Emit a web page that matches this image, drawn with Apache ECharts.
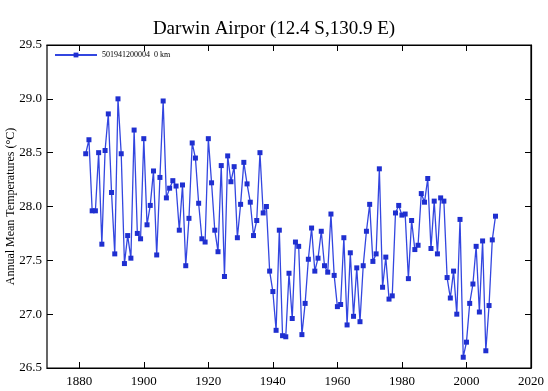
<!DOCTYPE html>
<html>
<head>
<meta charset="utf-8">
<script src="https://cdn.jsdelivr.net/npm/echarts@6/dist/echarts.min.js"></script>
<style>html,body{margin:0;padding:0;background:#fff}#c{width:548px;height:391px}</style>
</head>
<body>
<div id="c"></div>
<script>
var years = [];
for (var y = 1882; y <= 2009; y++) years.push(y);
var temps = [
  28.49, 28.62, 27.96, 27.96, 28.50, 27.65, 28.52, 28.86, 28.13, 27.56,
  29.00, 28.49, 27.47, 27.73, 27.52, 28.71, 27.75, 27.70, 28.63, 27.83,
  28.01, 28.33, 27.55, 28.27, 28.98, 28.08, 28.17, 28.24, 28.19, 27.78,
  28.20, 27.45, 27.89, 28.59, 28.45, 28.03, 27.70, 27.67, 28.63, 28.22,
  27.78, 27.58, 28.38, 27.35, 28.47, 28.23, 28.37, 27.71, 28.02, 28.41,
  28.21, 28.04, 27.73, 27.87, 28.50, 27.94, 28.00, 27.40, 27.21, 26.85,
  27.78, 26.80, 26.79, 27.38, 26.96, 27.67, 27.63, 26.81, 27.10, 27.51,
  27.80, 27.40, 27.52, 27.77, 27.45, 27.39, 27.93, 27.36, 27.07, 27.09,
  27.71, 26.90, 27.57, 26.98, 27.43, 26.93, 27.45, 27.77, 28.02, 27.49,
  27.56, 28.35, 27.25, 27.53, 27.14, 27.17, 27.94, 28.01, 27.92, 27.93,
  27.33, 27.87, 27.60, 27.64, 28.12, 28.04, 28.26, 27.61, 28.05, 27.56,
  28.08, 28.05, 27.34, 27.15, 27.40, 27.00, 27.88, 26.60, 26.74, 27.10,
  27.28, 27.63, 27.02, 27.68, 26.66, 27.08, 27.69, 27.91
];
var xTicks = [1880, 1900, 1920, 1940, 1960, 1980, 2000, 2020];
var seriesName = '501941200004  0 km';
var titleText = 'Darwin Airpor (12.4 S,130.9 E)';
var yName = 'Annual Mean Temperatures (\u00B0C)';

var data = years.map(function (yr, i) { return [yr, temps[i]]; });
var font = 'Liberation Serif, Times New Roman, serif';
function axLine() { return { show: true, onZero: false, lineStyle: { color: '#000', width: 1.2 } }; }
function tick(extra) {
  var t = { show: true, inside: true, length: 6, lineStyle: { color: '#000', width: 1 } };
  if (extra) t.customValues = extra;
  return t;
}
function yBase(pos) {
  return { type: 'value', min: 26.5, max: 29.5, interval: 0.5, position: pos, offset: 0, splitLine: { show: false } };
}

var chart = echarts.init(document.getElementById('c'), null, { renderer: 'canvas' });
var yLabeled = yBase('left');
yLabeled.name = yName;
yLabeled.nameLocation = 'middle';
yLabeled.nameGap = 30;
yLabeled.nameRotate = 90;
yLabeled.nameMoveOverlap = false;
yLabeled.nameTextStyle = { fontFamily: font, fontSize: 12, color: '#000' };
yLabeled.axisLine = { show: false, onZero: false };
yLabeled.axisTick = { show: false };
yLabeled.axisLabel = { margin: 5, fontFamily: font, fontSize: 13, color: '#000',
  formatter: function (v) { return v.toFixed(1); } };
// left-edge inward ticks: a right-positioned axis shifted onto the left border
var yLeftFrame = yBase('right');
yLeftFrame.offset = -484;
yLeftFrame.axisLine = { show: false, onZero: false };
yLeftFrame.axisTick = { show: true, inside: false, length: 6, lineStyle: { color: '#000', width: 1 } };
yLeftFrame.axisLabel = { show: false };
var yRightFrame = yBase('right');
yRightFrame.axisLine = axLine();
yRightFrame.axisTick = tick();
yRightFrame.axisLabel = { show: false };

chart.setOption({
  animation: false,
  backgroundColor: '#fff',
  title: {
    text: titleText, left: 'center', top: 15,
    textStyle: { fontFamily: font, fontWeight: 'normal', fontSize: 19, color: '#000' }
  },
  legend: {
    data: [seriesName], left: 49, top: 46, itemWidth: 42, itemHeight: 6, itemGap: 4,
    textStyle: { fontFamily: font, fontSize: 8, color: '#000' }
  },
  grid: { left: 47, right: 17, top: 45, bottom: 23, containLabel: false, outerBoundsMode: 'none',
    show: true, borderColor: '#000', borderWidth: 1.2, backgroundColor: 'transparent' },
  xAxis: [{
    type: 'value', min: 1870, max: 2020, interval: 10, position: 'bottom',
    axisLine: axLine(), splitLine: { show: false },
    axisTick: tick(xTicks),
    axisLabel: { customValues: xTicks, margin: 7, fontFamily: font, fontSize: 13, color: '#000',
      formatter: function (v) { return String(v); } }
  }, {
    type: 'value', min: 1870, max: 2020, interval: 10, position: 'top',
    axisLine: axLine(), splitLine: { show: false },
    axisTick: tick(xTicks),
    axisLabel: { show: false }
  }],
  yAxis: [yLabeled, yLeftFrame, yRightFrame],
  series: [{
    name: seriesName, type: 'line', xAxisIndex: 0, yAxisIndex: 0, data: data,
    symbol: 'rect', symbolSize: 5, showSymbol: true,
    lineStyle: { color: '#3346e0', width: 1.3 },
    itemStyle: { color: '#1f2fd0' }
  }]
});
</script>
</body>
</html>
